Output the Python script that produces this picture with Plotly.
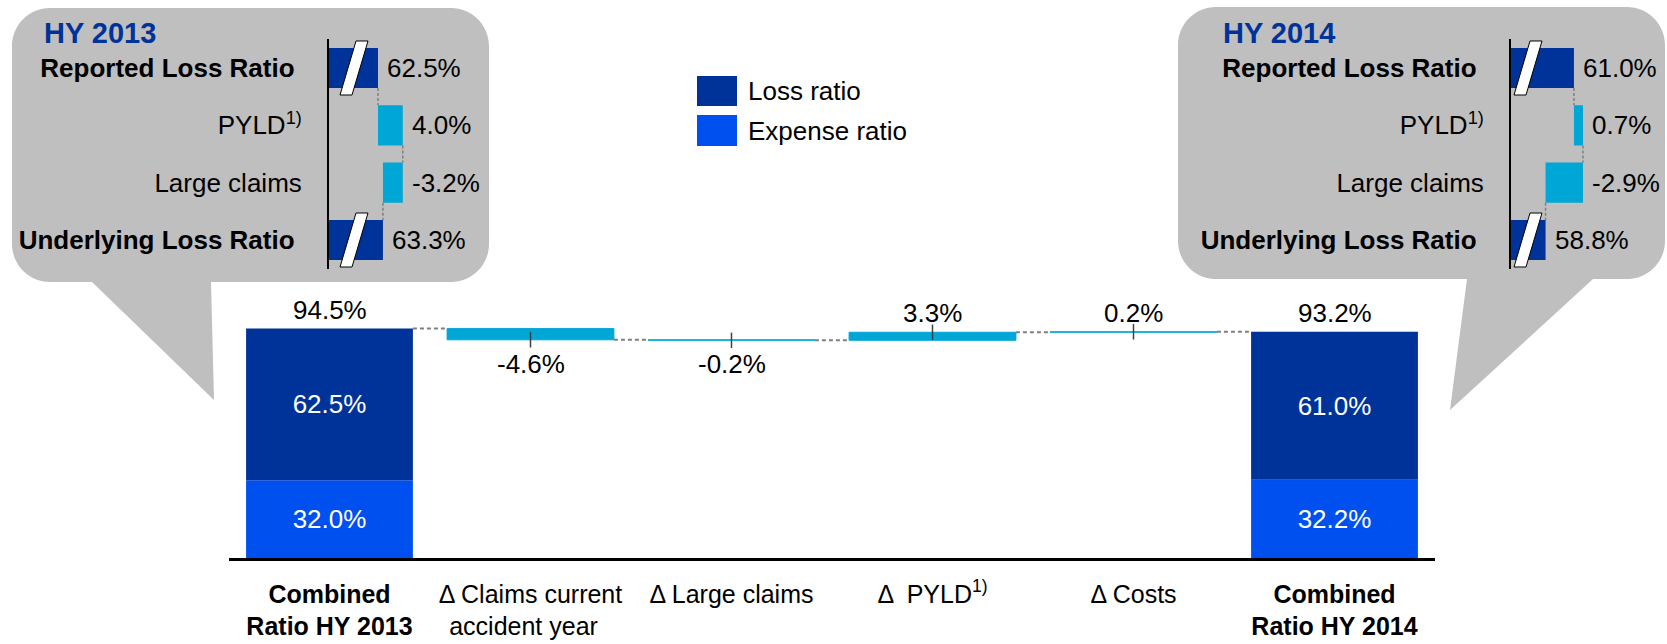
import plotly.graph_objects as go

# ---------------- data ----------------
total_labels = ["Combined Ratio HY 2013", "Combined Ratio HY 2014"]
expense_ratio = [32.0, 32.2]
loss_ratio = [62.5, 61.0]

delta_labels = ["Δ Claims current accident year", "Δ Large claims", "Δ PYLD", "Δ Costs"]
delta_values = [-4.6, -0.2, 3.3, 0.2]

tick_text = [
    "<b>Combined<br>Ratio HY 2013</b>",
    "Δ Claims current<br>accident year\u00a0\u00a0",
    "Δ Large claims",
    "Δ  PYLD<sup>1)</sup>",
    "Δ Costs",
    "<b>Combined<br>Ratio HY 2014</b>",
]

bridge_rows = ["Reported Loss Ratio", "PYLD<sup>1)</sup>", "Large claims", "Underlying Loss Ratio"]
hy2013_bridge = [62.5, 4.0, -3.2, 63.3]
hy2014_bridge = [61.0, 0.7, -2.9, 58.8]

# ---------------- styling ----------------
W, H = 1667, 644
FONT = "Liberation Sans, Arial, sans-serif"
FS = 26
DARK = "#003399"
EXPENSE = "#0050F0"
DELTA = "#00A6D6"
GREY = "#BFBFBF"
DASH = "#7F7F7F"


def px(x):
    return x / W


def py(y):
    return 1 - y / H


fig = go.Figure()

# ---------------- main waterfall ----------------
n = len(tick_text)
total_x = [0, n - 1]
bar_w = 0.83

totals = [e + l for e, l in zip(expense_ratio, loss_ratio)]
fig.add_trace(go.Bar(
    x=total_x, y=expense_ratio, base=[0, 0], width=bar_w,
    marker_color=EXPENSE, marker_line_width=0,
    text=[f"{v:.1f}%" for v in expense_ratio], textposition="inside",
    insidetextanchor="middle", textangle=0,
    textfont=dict(color="white", size=FS, family=FONT),
    showlegend=False, hoverinfo="skip",
))
fig.add_trace(go.Bar(
    x=total_x, y=loss_ratio, base=expense_ratio, width=bar_w,
    marker_color=DARK, marker_line_width=0,
    text=[f"{v:.1f}%" for v in loss_ratio], textposition="inside",
    insidetextanchor="middle", textangle=0,
    textfont=dict(color="white", size=FS, family=FONT),
    showlegend=False, hoverinfo="skip",
))

# delta bars floating on the running total
delta_x = list(range(1, n - 1))
bases = []
level = totals[0]
for v in delta_values:
    bases.append(level)
    level += v
ends = [b + v for b, v in zip(bases, delta_values)]

fig.add_trace(go.Bar(
    x=delta_x, y=delta_values, base=bases, width=bar_w,
    marker_color=DELTA, marker_line=dict(color=DELTA, width=1),
    showlegend=False, hoverinfo="skip",
))

# dashed connectors between neighbouring bars
levels = [totals[0]] + ends
cx, cy = [], []
for i, lv in enumerate(levels):
    cx += [i + bar_w / 2, i + 1 - bar_w / 2, None]
    cy += [lv, lv, None]
fig.add_trace(go.Scatter(
    x=cx, y=cy, mode="lines", line=dict(color=DASH, width=2, dash="4px,3px"),
    showlegend=False, hoverinfo="skip",
))

# small leader ticks at the moving end of each delta bar
fig.add_trace(go.Scatter(
    x=delta_x, y=ends, mode="markers",
    marker=dict(symbol="line-ns", size=11, line=dict(color="#404040", width=1.5)),
    showlegend=False, hoverinfo="skip",
))

annotations = []
# value labels above / below the bars
for xi, top in zip(total_x, totals):
    annotations.append(dict(x=xi, y=top, xref="x", yref="y", text=f"{top:.1f}%",
                            showarrow=False, yanchor="bottom", yshift=2,
                            font=dict(size=FS, color="black", family=FONT)))
for xi, b, v in zip(delta_x, bases, delta_values):
    if v < 0:
        annotations.append(dict(x=xi, y=b + v, xref="x", yref="y", text=f"{v:.1f}%",
                                showarrow=False, yanchor="top", yshift=-7,
                                font=dict(size=FS, color="black", family=FONT)))
    else:
        annotations.append(dict(x=xi, y=b + v, xref="x", yref="y", text=f"{v:.1f}%",
                                showarrow=False, yanchor="bottom", yshift=2,
                                font=dict(size=FS, color="black", family=FONT)))

# ---------------- callout bridges ----------------
def add_bridge(vals, xa, ya):
    rows = list(range(len(vals)))
    start, d1, d2, end = vals
    bw = 0.7
    fig.add_trace(go.Bar(
        y=[rows[0], rows[3]], x=[start, end], base=[0, 0], orientation="h", width=bw,
        marker_color=DARK, marker_line_width=0, xaxis=xa, yaxis=ya,
        showlegend=False, hoverinfo="skip",
    ))
    b1 = start
    b2 = start + d1
    fig.add_trace(go.Bar(
        y=[rows[1], rows[2]], x=[d1, d2], base=[b1, b2], orientation="h", width=bw,
        marker_color=DELTA, marker_line_width=0, xaxis=xa, yaxis=ya,
        showlegend=False, hoverinfo="skip",
    ))
    # vertical dashed connectors
    steps = [start, b2, b2 + d2]
    lx, ly = [], []
    for i, s in enumerate(steps):
        lx += [s, s, None]
        ly += [i + bw / 2, i + 1 - bw / 2, None]
    fig.add_trace(go.Scatter(
        x=lx, y=ly, mode="lines", xaxis=xa, yaxis=ya,
        line=dict(color=DASH, width=1.5, dash="3px,2px"),
        showlegend=False, hoverinfo="skip",
    ))
    # value labels right of each bar
    right_ends = [start, max(b1, b1 + d1), max(b2, b2 + d2), end]
    for r, xe, v in zip(rows, right_ends, vals):
        annotations.append(dict(x=xe, y=r, xref=xa, yref=ya, text=f"{v:.1f}%",
                                showarrow=False, xanchor="left", xshift=7,
                                font=dict(size=FS, color="black", family=FONT)))


add_bridge(hy2013_bridge, "x2", "y2")
add_bridge(hy2014_bridge, "x3", "y3")

row_ticks = [f"<b>{t}\u00a0</b>" if "Ratio" in t else t for t in bridge_rows]

# ---------------- shapes ----------------
K = 0.5523


def callout_path(x0, y0, x1, y1, r, tri):
    (ta, tip, tb) = tri  # bottom edge points traversed right-to-left

    def P(x, y):
        return f"{px(x):.5f},{py(y):.5f}"

    d = f"M{P(x0 + r, y0)} L{P(x1 - r, y0)} "
    d += f"C{P(x1 - r + K * r, y0)} {P(x1, y0 + r - K * r)} {P(x1, y0 + r)} "
    d += f"L{P(x1, y1 - r)} "
    d += f"C{P(x1, y1 - r + K * r)} {P(x1 - r + K * r, y1)} {P(x1 - r, y1)} "
    d += f"L{P(ta, y1)} L{P(*tip)} L{P(tb, y1)} L{P(x0 + r, y1)} "
    d += f"C{P(x0 + r - K * r, y1)} {P(x0, y1 - r + K * r)} {P(x0, y1 - r)} "
    d += f"L{P(x0, y0 + r)} "
    d += f"C{P(x0, y0 + r - K * r)} {P(x0 + r - K * r, y0)} {P(x0 + r, y0)} Z"
    return d


shapes = [
    dict(type="path", xref="paper", yref="paper", layer="below",
         path=callout_path(12, 8, 489, 282, 38, (211, (214, 400), 92)),
         fillcolor=GREY, line=dict(width=0)),
    dict(type="path", xref="paper", yref="paper", layer="below",
         path=callout_path(1178, 7, 1665, 279, 38, (1593, (1450, 410), 1467)),
         fillcolor=GREY, line=dict(width=0)),
]


# axis-break marks across the broken bars
def break_mark(cx, cy, half_w=6, half_h=27, slant=8):
    p = [(cx - half_w - slant, cy + half_h), (cx + half_w - slant, cy + half_h),
         (cx + half_w + slant, cy - half_h), (cx - half_w + slant, cy - half_h)]
    d = "M" + " L".join(f"{px(x):.5f},{py(y):.5f}" for x, y in p) + " Z"
    return dict(type="path", xref="paper", yref="paper", layer="above", path=d,
                fillcolor="white", line=dict(color="black", width=1))


for cy in (68, 240):
    shapes.append(break_mark(354, cy))
    shapes.append(break_mark(1528, cy))

# legend swatches
legend_items = [("Loss ratio", DARK, 76, 106), ("Expense ratio", EXPENSE, 115, 146)]
for name, col, y0, y1 in legend_items:
    shapes.append(dict(type="rect", xref="paper", yref="paper",
                       x0=px(697), x1=px(737), y0=py(y1), y1=py(y0),
                       fillcolor=col, line=dict(width=0)))
    annotations.append(dict(x=px(746), y=py((y0 + y1) / 2), xref="paper", yref="paper",
                            text=name, showarrow=False, xanchor="left", yanchor="middle",
                            font=dict(size=FS, color="black", family=FONT)))

# callout titles
for title, x in (("HY 2013", 42), ("HY 2014", 1221)):
    annotations.append(dict(x=px(x), y=py(33), xref="paper", yref="paper",
                            text=f"<b>{title}</b>", showarrow=False,
                            xanchor="left", yanchor="middle",
                            font=dict(size=29, color=DARK, family=FONT)))

# ---------------- layout ----------------
bridge_y_domain = [py(268.7), py(39.3)]
fig.update_layout(
    template="none",
    width=W, height=H,
    margin=dict(l=0, r=0, t=0, b=0),
    paper_bgcolor="white", plot_bgcolor="rgba(0,0,0,0)",
    barmode="overlay",
    font=dict(family=FONT, size=FS, color="black"),
    showlegend=False,
    xaxis=dict(domain=[px(229), px(1435)], range=[-0.5, n - 0.5],
               tickvals=list(range(n)), ticktext=tick_text,
               showline=True, linecolor="black", linewidth=2.5,
               showgrid=False, zeroline=False, ticks="", ticklabelstandoff=12,
               tickfont=dict(size=25, color="black", family=FONT),
               automargin=False, fixedrange=True),
    yaxis=dict(domain=[py(558), py(291)], range=[0, 110], visible=False,
               automargin=False, fixedrange=True),
    xaxis2=dict(domain=[px(329), px(449)], range=[54.6, 54.6 + 120 / 6.2],
                anchor="y2", visible=False),
    yaxis2=dict(domain=bridge_y_domain, range=[3.5, -0.5], anchor="x2",
                tickvals=[0, 1, 2, 3], ticktext=row_ticks, ticks="",
                showline=True, linecolor="black", linewidth=2, showgrid=False,
                zeroline=False, ticklabelstandoff=20, automargin=False,
                tickfont=dict(size=FS, color="black", family=FONT)),
    xaxis3=dict(domain=[px(1511), px(1631)], range=[56.12, 56.12 + 120 / 12.9],
                anchor="y3", visible=False),
    yaxis3=dict(domain=bridge_y_domain, range=[3.5, -0.5], anchor="x3",
                tickvals=[0, 1, 2, 3], ticktext=row_ticks, ticks="",
                showline=True, linecolor="black", linewidth=2, showgrid=False,
                zeroline=False, ticklabelstandoff=20, automargin=False,
                tickfont=dict(size=FS, color="black", family=FONT)),
    shapes=shapes,
    annotations=annotations,
)

fig.write_html("out.html")
